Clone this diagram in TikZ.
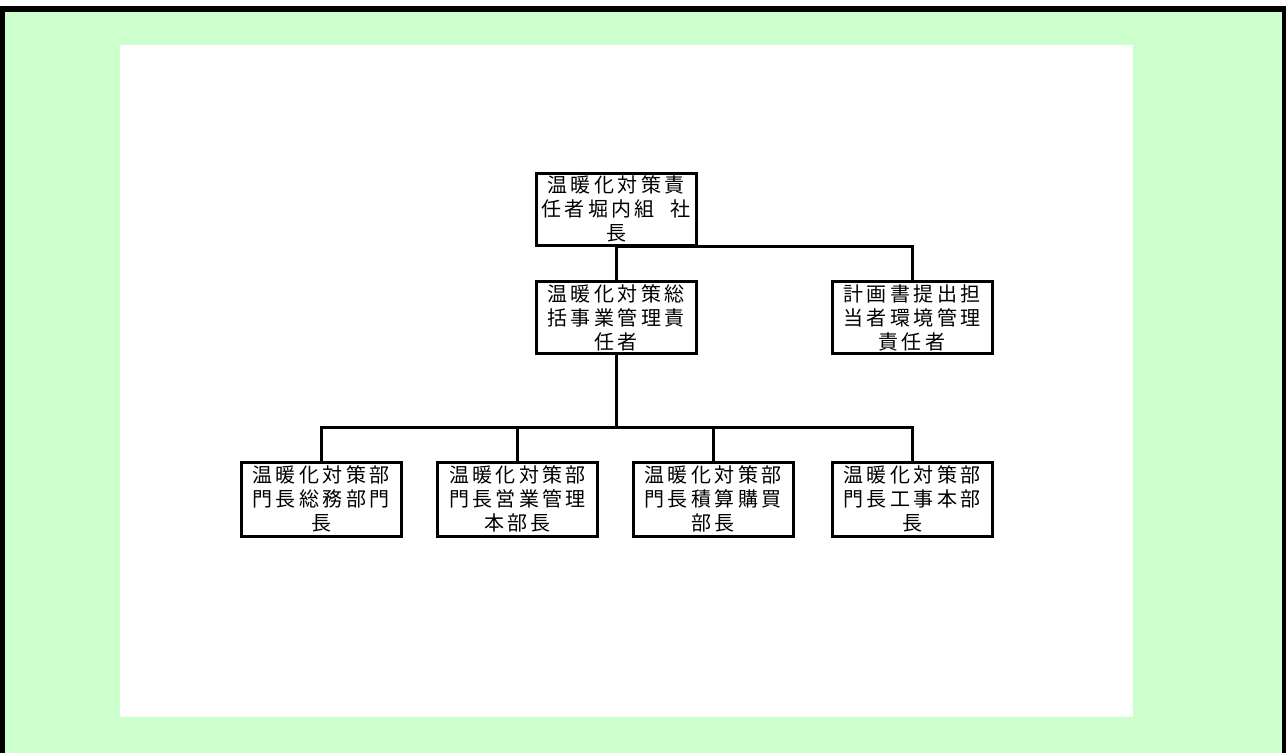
\documentclass[tikz,border=0pt]{standalone}
\usepackage{fontspec}
\newfontfamily\jp[LetterSpace=17]{Noto Sans CJK JP}
\definecolor{bggreen}{HTML}{CCFFCC}
\begin{document}
\begin{tikzpicture}[x=1pt,y=-1pt,
  box/.style={draw=black,line width=3pt,fill=white,align=center,inner sep=0pt,
    minimum width=160pt,minimum height=72pt,font=\jp\fontsize{20}{24}\selectfont},
  link/.style={draw=black,line width=3pt}]
\useasboundingbox (0,0) rectangle (1286,753);
\fill[white] (0,0) rectangle (1286,753);
\fill[black] (0,6) rectangle (1286,753);
\fill[bggreen] (5,12) rectangle (1282,753);
\fill[white] (120,45) rectangle (1133,717);
\node[box] (top) at (616,209) {温暖化対策責\\任者堀内組\ \ 社\\長};
\node[box] (mid) at (616,317.5) {温暖化対策総\\括事業管理責\\任者};
\node[box] (right) at (912,317.5) {計画書提出担\\当者環境管理\\責任者};
\node[box,minimum height=74pt] (b1) at (321,499) {温暖化対策部\\門長総務部門\\長};
\node[box,minimum height=74pt] (b2) at (517.5,499) {温暖化対策部\\門長営業管理\\本部長};
\node[box,minimum height=74pt] (b3) at (713,499) {温暖化対策部\\門長積算購買\\部長};
\node[box,minimum height=74pt] (b4) at (912,499) {温暖化対策部\\門長工事本部\\長};
\coordinate (bus) at (616,427);
\draw[link] (top.south) -- (mid.north);
\draw[link] (top.south) -- (top.south -| right.north) -- (right.north);
\draw[link] (mid.south) -- (bus);
\draw[link] (b1.north) |- (bus) -| (b4.north);
\draw[link] (b2.north) -- (b2.north |- bus);
\draw[link] (b3.north) -- (b3.north |- bus);
\end{tikzpicture}
\end{document}
